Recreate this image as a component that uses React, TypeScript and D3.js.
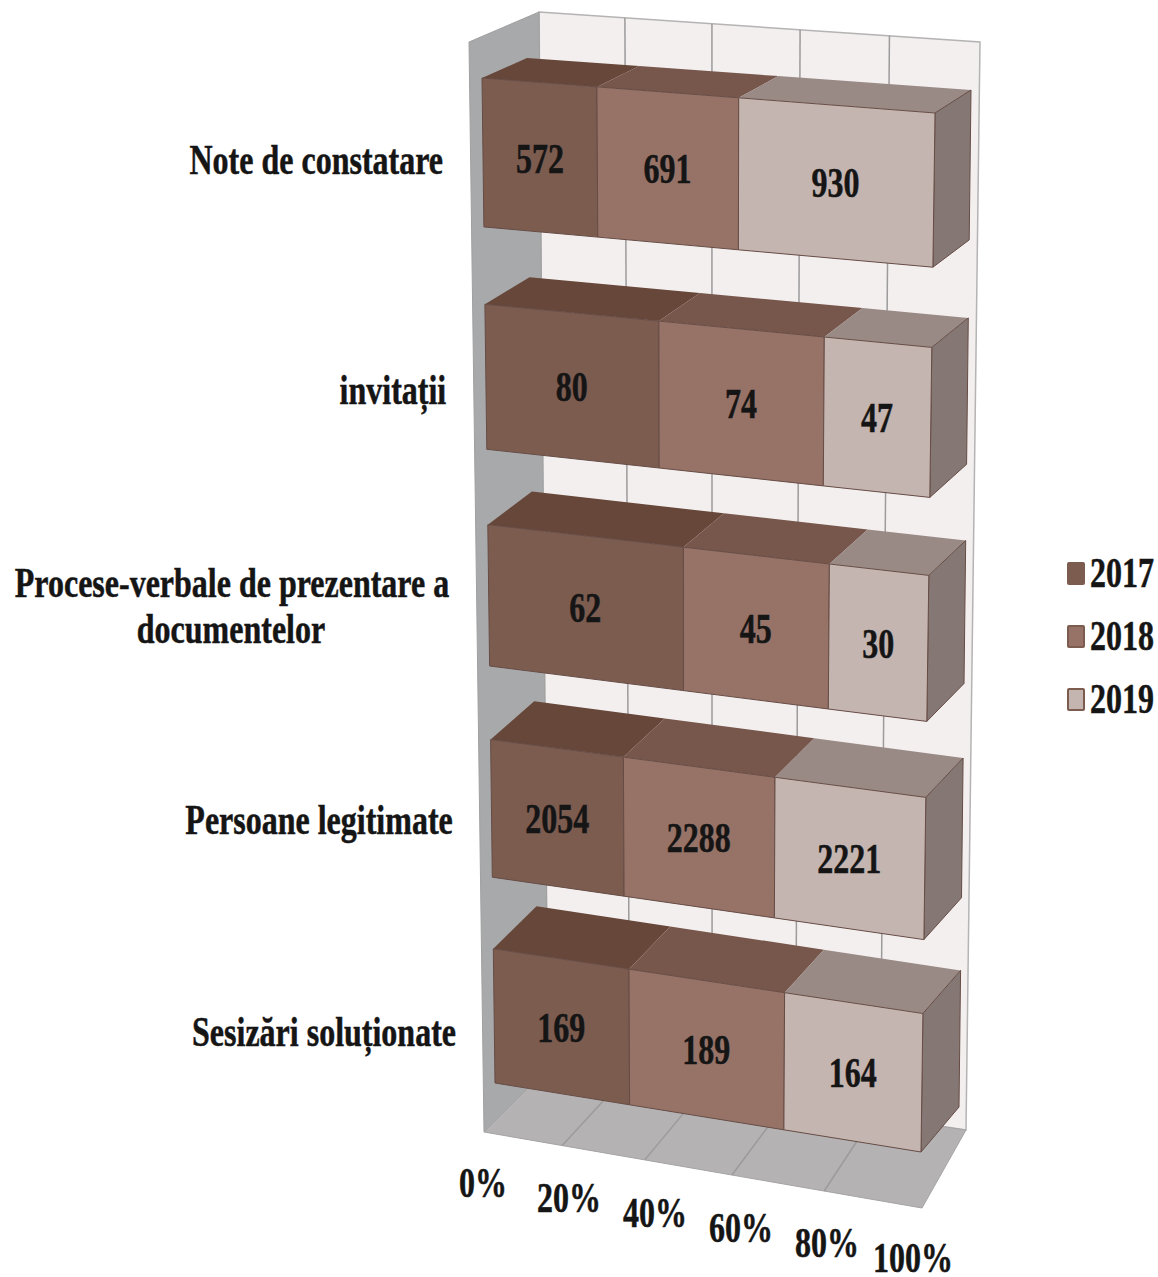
import React from "react";
import * as d3 from "d3";

const categories = ["Note de constatare", "invitații", "Procese-verbale de prezentare a|documentelor", "Persoane legitimate", "Sesizări soluționate"];
const years = ["2017", "2018", "2019"];
const v2017 = [572, 80, 62, 2054, 169];
const v2018 = [691, 74, 45, 2288, 189];
const v2019 = [930, 47, 30, 2221, 164];
const series = [v2017, v2018, v2019];
const ticks = [0, 20, 40, 60, 80, 100];

const frontColors = ["#7d5c50", "#977367", "#c5b5b0"];
const topColors = ["#664739", "#77564b", "#998a86"];
const sideColor = "#857773";
const edge = "#664c45";

type P = [number, number];
function homography(q: P[]) {
  const [[x0, y0], [x1, y1], [x2, y2], [x3, y3]] = q;
  const dx1 = x1 - x2, dx2 = x3 - x2, sx = x0 - x1 + x2 - x3;
  const dy1 = y1 - y2, dy2 = y3 - y2, sy = y0 - y1 + y2 - y3;
  const den = dx1 * dy2 - dx2 * dy1;
  const g = (sx * dy2 - dx2 * sy) / den;
  const h = (dx1 * sy - sx * dy1) / den;
  const a = x1 - x0 + g * x1, b = x3 - x0 + h * x3;
  const d = y1 - y0 + g * y1, e = y3 - y0 + h * y3;
  return (u: number, v: number): P => {
    const w = g * u + h * v + 1;
    return [(a * u + b * v + x0) / w, (d * u + e * v + y0) / w];
  };
}

// Projection planes of the 3-D scene (pixel corners: TL, TR, BR, BL)
const frontPlane = homography([[482, 78], [935, 113], [921, 1152], [495, 1083]]);
const backPlane = homography([[527, 58], [971, 90], [959, 1107], [538, 1038]]);
const wallPlane = homography([[539, 12], [980, 42], [966, 1130], [548, 1068]]);
const sidePlane = homography([[469, 42], [539, 12], [548, 1068], [484, 1132]]);
const floorPlane = homography([[548, 1068], [966, 1130], [922, 1208], [484, 1132]]);

const u = d3.scaleLinear().domain([0, 100]).range([0, 1]);
const band = d3.scaleBand<number>().domain(d3.range(categories.length)).range([0, 1]).paddingInner(0.345).paddingOuter(0);

const tickX = d3.scaleLinear().domain([0, 100]).range([483, 913]);
const tickY = d3.scaleLinear().domain([0, 100]).range([1197, 1272]);
const catX = d3.scaleLinear().domain([0, 4]).range([443, 456]);
const catY = [174, 404, 0, 834, 1046];

const pts = (a: P[]) => a.map((p) => p.map((n) => n.toFixed(1)).join(",")).join(" ");
const FONT = "'Liberation Serif', 'Times New Roman', serif";

function T({ x, y, anchor = "middle", children, size = 32 }: any) {
  return (
    <text transform={`translate(${x},${y}) scale(1,1.33)`} textAnchor={anchor} fontFamily={FONT} fontWeight="bold" fontSize={size} fill="#151515" stroke="#151515" strokeWidth={0.4}>
      {children}
    </text>
  );
}

export default function App() {
  const grid = [20, 40, 60, 80];
  return (
    <svg width={1158} height={1277} style={{ position: "absolute", left: 0, top: 0, background: "#fff" }}>
      <polygon points={pts([wallPlane(0, 0), wallPlane(1, 0), wallPlane(1, 1), wallPlane(0, 1)])} fill="#f3efef" stroke="#b5b3b3" strokeWidth={1.5} />
      <polygon points={pts([sidePlane(0, 0), sidePlane(1, 0), sidePlane(1, 1), sidePlane(0, 1)])} fill="#a8a9ab" stroke="#a0a0a0" />
      <polygon points={pts([floorPlane(0, 0), floorPlane(1, 0), floorPlane(1, 1), floorPlane(0, 1)])} fill="#b4b2b3" stroke="#a5a3a3" />
      {grid.map((g) => (
        <g key={g} stroke="#9c9a9b" strokeWidth={1.5}>
          <line x1={wallPlane(u(g), 0)[0]} y1={wallPlane(u(g), 0)[1]} x2={wallPlane(u(g), 1)[0]} y2={wallPlane(u(g), 1)[1]} />
          <line x1={floorPlane(u(g), 0)[0]} y1={floorPlane(u(g), 0)[1]} x2={floorPlane(u(g), 1)[0]} y2={floorPlane(u(g), 1)[1]} />
        </g>
      ))}

      {categories.map((c, i) => {
        const t0 = band(i)!;
        const t1 = t0 + band.bandwidth();
        const total = d3.sum(series, (s) => s[i]);
        let acc = 0;
        const segs = series.map((s, k) => {
          const a = acc / total;
          acc += s[i];
          return { a, b: acc / total, value: s[i], k };
        });
        return (
          <g key={c}>
            {segs.map((s) => (
              <polygon key={s.k} points={pts([frontPlane(s.a, t0), backPlane(s.a, t0), backPlane(s.b, t0), frontPlane(s.b, t0)])} fill={topColors[s.k]} />
            ))}
            <polygon points={pts([frontPlane(1, t0), backPlane(1, t0), backPlane(1, t1), frontPlane(1, t1)])} fill={sideColor} stroke={edge} strokeWidth={1} />
            {segs.map((s) => (
              <polygon key={s.k} points={pts([frontPlane(s.a, t0), frontPlane(s.b, t0), frontPlane(s.b, t1), frontPlane(s.a, t1)])} fill={frontColors[s.k]} stroke={edge} strokeWidth={1} />
            ))}
            {segs.map((s) => {
              const [x, y] = frontPlane((s.a + s.b) / 2, (t0 + t1) / 2);
              return <T key={s.k} x={x} y={y + 15}>{s.value}</T>;
            })}
          </g>
        );
      })}

      {categories.map((c, i) => {
        if (c.includes("|")) {
          const [l1, l2] = c.split("|");
          return (
            <g key={c}>
              <T x={232} y={597}>{l1}</T>
              <T x={231} y={643}>{l2}</T>
            </g>
          );
        }
        return <T key={c} x={catX(i)} y={catY[i]} anchor="end">{c}</T>;
      })}

      {ticks.map((t) => (
        <T key={t} x={tickX(t)} y={tickY(t)}>{t}%</T>
      ))}

      {years.map((y, k) => (
        <g key={y}>
          <rect x={1068} y={563 + k * 63} width={16} height={21} rx={1} fill={frontColors[k]} stroke="#7d5c50" strokeWidth={2} />
          <T x={1090} y={587 + k * 63} anchor="start">{y}</T>
        </g>
      ))}
    </svg>
  );
}
